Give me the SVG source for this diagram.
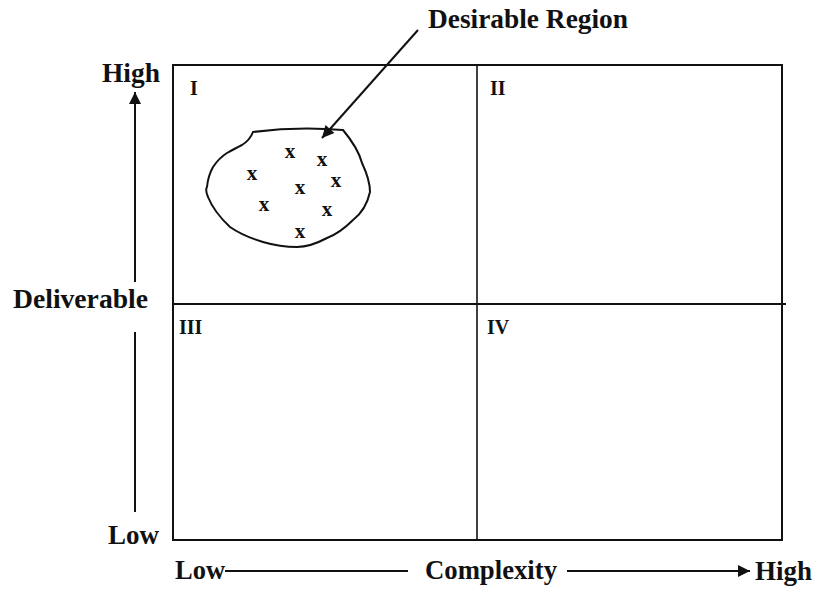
<svg xmlns="http://www.w3.org/2000/svg" width="815" height="590" viewBox="0 0 815 590">
<defs>
<style>
.t{font-family:"Liberation Serif","Times New Roman",serif;font-weight:bold;fill:#111;}
.lab{font-size:27px;}
.num{font-size:20px;}
.xm{font-size:21px;text-anchor:middle;}
.ln{stroke:#111;stroke-width:2;fill:none;}
.ln1{stroke:#111;stroke-width:1.6;fill:none;}
</style>
<marker id="ah" viewBox="0 0 10 10" refX="10" refY="5" markerWidth="15" markerHeight="12" markerUnits="userSpaceOnUse" orient="auto">
<path d="M0,0 L10,5 L0,10 z" fill="#111"/>
</marker>
</defs>
<rect width="815" height="590" fill="#fff"/>
<g id="grid">
<rect x="173" y="65" width="609" height="475" class="ln"/>
<line x1="477" y1="65" x2="477" y2="540" class="ln1"/>
<line x1="173" y1="304" x2="786" y2="304" class="ln"/>
</g>
<g id="quadrant-labels">
<text class="t num" x="190" y="95">I</text>
<text class="t num" x="490" y="95">II</text>
<text class="t num" x="179" y="334">III</text>
<text class="t num" x="487" y="334">IV</text>
</g>
<g id="desirable-region">
<path class="ln" d="M253,132 Q298,126 343,130 Q358,148 362,163 Q370,180 370,192 Q366,210 353,220 Q340,233 327,238 Q310,247 297,247 Q280,247 263,242 Q243,236 230,227 Q214,212 208,197 Q205,190 207,187 Q208,176 213,167 Q219,158 227,153 Q236,148 242,145 Q250,140 253,132 Z"/>
<text class="t xm" x="290" y="158">x</text>
<text class="t xm" x="322" y="166">x</text>
<text class="t xm" x="252" y="180">x</text>
<text class="t xm" x="336" y="187">x</text>
<text class="t xm" x="300" y="194">x</text>
<text class="t xm" x="264" y="211">x</text>
<text class="t xm" x="327" y="216">x</text>
<text class="t xm" x="300" y="238">x</text>
<text class="t lab" x="428" y="28" textLength="200" lengthAdjust="spacingAndGlyphs">Desirable Region</text>
</g>
<g id="axis-labels">
<text class="t lab" x="102" y="82" textLength="58" lengthAdjust="spacingAndGlyphs">High</text>
<text class="t lab" x="13" y="308" textLength="135" lengthAdjust="spacingAndGlyphs">Deliverable</text>
<text class="t lab" x="108" y="544" textLength="51" lengthAdjust="spacingAndGlyphs">Low</text>
<text class="t lab" x="175" y="579" textLength="50" lengthAdjust="spacingAndGlyphs">Low</text>
<text class="t lab" x="425" y="579" textLength="132" lengthAdjust="spacingAndGlyphs">Complexity</text>
<text class="t lab" x="755" y="580" textLength="57" lengthAdjust="spacingAndGlyphs">High</text>
</g>
<g id="connectors">
<line x1="418" y1="30" x2="322" y2="138" class="ln" marker-end="url(#ah)"/>
<line x1="135" y1="282" x2="135" y2="92" class="ln" marker-end="url(#ah)"/>
<line x1="135" y1="332" x2="135" y2="512" class="ln"/>
<line x1="225" y1="571" x2="408" y2="571" class="ln"/>
<line x1="567" y1="571" x2="750" y2="571" class="ln" marker-end="url(#ah)"/>
</g>
</svg>
